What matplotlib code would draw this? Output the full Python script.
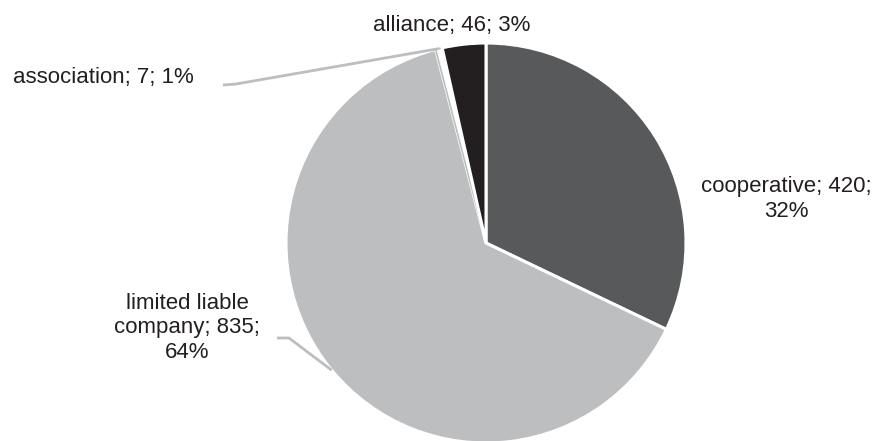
import numpy as np
import matplotlib
matplotlib.use("Agg")
import matplotlib.pyplot as plt

categories = ["cooperative", "limited liable company", "association", "alliance"]
values = [420, 835, 7, 46]
percents = ["32%", "64%", "1%", "3%"]
colors = ["#58595b", "#bcbec0", "#ffffff", "#231f20"]

W, H = 877, 441
fig = plt.figure(figsize=(W / 100, H / 100), dpi=100)
ax = fig.add_axes([0, 0, 1, 1])

cx, cy, r = 486, H - 243, 200
wedges, _ = ax.pie(values, colors=colors, startangle=90, counterclock=False,
                   center=(cx, cy), radius=r, frame=True,
                   wedgeprops=dict(edgecolor="white", linewidth=2.2))
wedges[2].set_edgecolor("#bcbec0")
wedges[2].set_linewidth(1.2)
ax.set_xlim(0, W)
ax.set_ylim(0, H)
ax.set_aspect("equal")
ax.axis("off")

fs = 16
tc = "#231f20"
fam = ["Liberation Sans", "DejaVu Sans"]

texts = [
    f"{categories[0]}; {values[0]};\n{percents[0]}",
    "limited liable\ncompany; " + f"{values[1]};\n{percents[1]}",
    f"{categories[2]}; {values[2]}; {percents[2]}",
    f"{categories[3]}; {values[3]}; {percents[3]}",
]
label_pos = [(786, H - 199), (187, H - 328), (103, H - 78), (452, H - 25)]
for t, (x, y) in zip(texts, label_pos):
    ax.text(x, y, t, ha="center", va="center", fontsize=fs, color=tc,
            family=fam, linespacing=1.2)

total = sum(values)
cum = np.cumsum([0] + values)
def mid_point(i):
    a = np.deg2rad(90 - 360 * (cum[i] + values[i] / 2) / total)
    return cx + r * np.cos(a), cy + r * np.sin(a)

lc = "#bcbec0"
px, py = mid_point(2)
ax.plot([223, 236, px], [H - 85, H - 84, py], color=lc, lw=2, solid_capstyle="butt")
px, py = mid_point(1)
ax.plot([277, 289, px], [H - 338, H - 338, py], color=lc, lw=2, solid_capstyle="butt")

fig.savefig("out.png", dpi=100, facecolor="white")
